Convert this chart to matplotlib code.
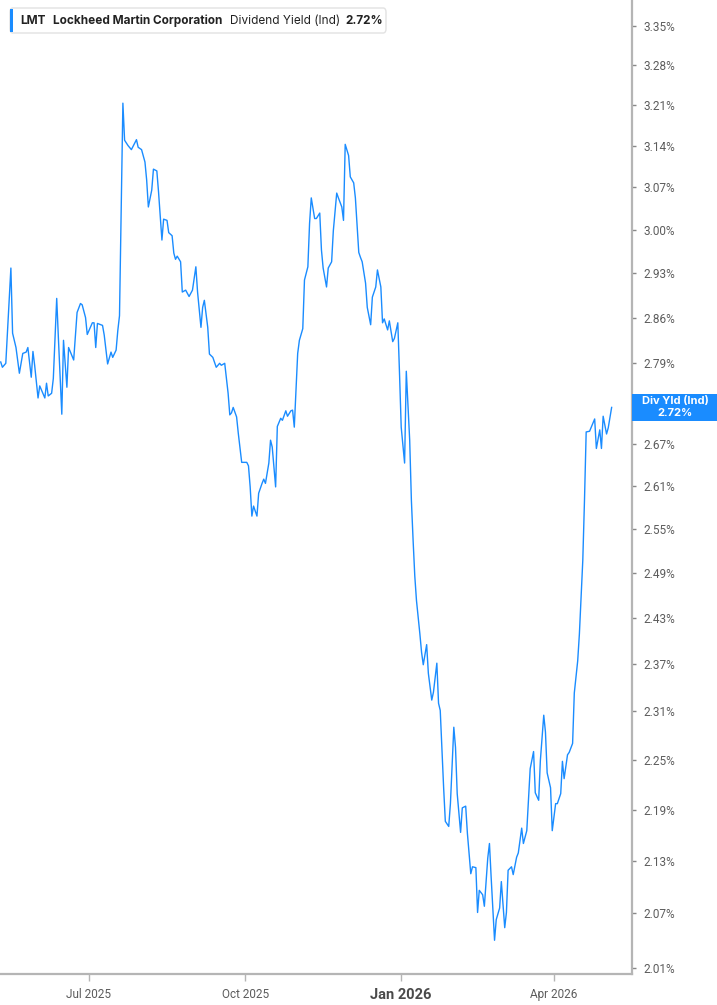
import matplotlib
matplotlib.use('Agg')
import matplotlib.pyplot as plt
import matplotlib.dates as mdates
from matplotlib.patches import FancyBboxPatch, Rectangle
from matplotlib.ticker import NullLocator, NullFormatter
import pandas as pd

# LMT dividend yield (indicated)
dates = [
    '2025-05-10', '2025-05-11', '2025-05-13', '2025-05-16', '2025-05-17', '2025-05-19', '2025-05-21',
    '2025-05-23', '2025-05-25', '2025-05-26', '2025-05-28', '2025-05-29', '2025-05-30', '2025-06-01',
    '2025-06-02', '2025-06-03', '2025-06-05', '2025-06-06', '2025-06-07', '2025-06-09', '2025-06-10',
    '2025-06-12', '2025-06-13', '2025-06-15', '2025-06-16', '2025-06-18', '2025-06-19', '2025-06-22',
    '2025-06-24', '2025-06-26', '2025-06-27', '2025-06-29', '2025-06-30', '2025-07-03', '2025-07-04',
    '2025-07-05', '2025-07-06', '2025-07-09', '2025-07-10', '2025-07-12', '2025-07-14', '2025-07-15',
    '2025-07-17', '2025-07-18', '2025-07-19', '2025-07-21', '2025-07-22', '2025-07-24', '2025-07-26',
    '2025-07-29', '2025-07-30', '2025-08-01', '2025-08-03', '2025-08-04', '2025-08-05', '2025-08-07',
    '2025-08-08', '2025-08-10', '2025-08-11', '2025-08-13', '2025-08-14', '2025-08-16', '2025-08-17',
    '2025-08-19', '2025-08-20', '2025-08-21', '2025-08-22', '2025-08-24', '2025-08-25', '2025-08-27',
    '2025-08-29', '2025-08-31', '2025-09-02', '2025-09-03', '2025-09-05', '2025-09-06', '2025-09-07',
    '2025-09-09', '2025-09-10', '2025-09-12', '2025-09-14', '2025-09-16', '2025-09-17', '2025-09-19',
    '2025-09-21', '2025-09-22', '2025-09-23', '2025-09-24', '2025-09-26', '2025-09-27', '2025-09-29',
    '2025-10-02', '2025-10-03', '2025-10-04', '2025-10-05', '2025-10-06', '2025-10-08', '2025-10-09',
    '2025-10-11', '2025-10-12', '2025-10-13', '2025-10-15', '2025-10-16', '2025-10-17', '2025-10-19',
    '2025-10-20', '2025-10-22', '2025-10-23', '2025-10-25', '2025-10-26', '2025-10-28', '2025-10-29',
    '2025-10-30', '2025-11-01', '2025-11-02', '2025-11-04', '2025-11-05', '2025-11-07', '2025-11-08',
    '2025-11-09', '2025-11-11', '2025-11-12', '2025-11-14', '2025-11-15', '2025-11-16', '2025-11-18',
    '2025-11-19', '2025-11-21', '2025-11-22', '2025-11-24', '2025-11-25', '2025-11-27', '2025-11-28',
    '2025-11-29', '2025-12-01', '2025-12-02', '2025-12-04', '2025-12-05', '2025-12-07', '2025-12-08',
    '2025-12-09', '2025-12-11', '2025-12-12', '2025-12-14', '2025-12-15', '2025-12-17', '2025-12-18',
    '2025-12-20', '2025-12-21', '2025-12-22', '2025-12-24', '2025-12-25', '2025-12-27', '2025-12-28',
    '2025-12-30', '2025-12-31', '2026-01-01', '2026-01-03', '2026-01-04', '2026-01-06', '2026-01-07',
    '2026-01-08', '2026-01-09', '2026-01-10', '2026-01-12', '2026-01-13', '2026-01-14', '2026-01-16',
    '2026-01-17', '2026-01-19', '2026-01-20', '2026-01-22', '2026-01-23', '2026-01-24', '2026-01-26',
    '2026-01-27', '2026-01-29', '2026-01-30', '2026-02-01', '2026-02-02', '2026-02-03', '2026-02-05',
    '2026-02-06', '2026-02-08', '2026-02-09', '2026-02-11', '2026-02-12', '2026-02-14', '2026-02-15',
    '2026-02-16', '2026-02-18', '2026-02-19', '2026-02-21', '2026-02-22', '2026-02-23', '2026-02-25',
    '2026-02-26', '2026-02-28', '2026-03-01', '2026-03-03', '2026-03-04', '2026-03-05', '2026-03-07',
    '2026-03-08', '2026-03-10', '2026-03-11', '2026-03-13', '2026-03-14', '2026-03-16', '2026-03-17',
    '2026-03-18', '2026-03-20', '2026-03-21', '2026-03-23', '2026-03-24', '2026-03-26', '2026-03-27',
    '2026-03-28', '2026-03-30', '2026-03-31', '2026-04-02', '2026-04-03', '2026-04-05', '2026-04-06',
    '2026-04-07', '2026-04-09', '2026-04-10', '2026-04-12', '2026-04-13', '2026-04-15', '2026-04-16',
    '2026-04-18', '2026-04-19', '2026-04-20', '2026-04-22', '2026-04-23', '2026-04-25', '2026-04-26',
    '2026-04-28', '2026-04-29', '2026-04-30', '2026-05-02', '2026-05-03', '2026-05-05',
]
yields = [
    2.792, 2.784, 2.790, 2.938, 2.836, 2.814, 2.775,
    2.805, 2.807, 2.814, 2.769, 2.808, 2.787, 2.738,
    2.756, 2.750, 2.738, 2.760, 2.741, 2.745, 2.767,
    2.890, 2.828, 2.714, 2.825, 2.754, 2.814, 2.795,
    2.868, 2.882, 2.880, 2.860, 2.834, 2.852, 2.852,
    2.814, 2.851, 2.848, 2.833, 2.789, 2.807, 2.799,
    2.810, 2.840, 2.863, 3.213, 3.149, 3.140, 3.133,
    3.150, 3.137, 3.133, 3.112, 3.082, 3.037, 3.065,
    3.100, 3.097, 3.062, 2.983, 3.017, 3.015, 2.995,
    2.990, 2.962, 2.952, 2.957, 2.948, 2.900, 2.903,
    2.893, 2.903, 2.940, 2.900, 2.845, 2.876, 2.887,
    2.845, 2.804, 2.799, 2.784, 2.790, 2.787, 2.790,
    2.745, 2.713, 2.716, 2.724, 2.710, 2.686, 2.644,
    2.644, 2.639, 2.609, 2.568, 2.582, 2.568, 2.600,
    2.614, 2.620, 2.614, 2.643, 2.676, 2.666, 2.609,
    2.696, 2.708, 2.705, 2.719, 2.711, 2.719, 2.720,
    2.695, 2.805, 2.825, 2.843, 2.919, 2.940, 3.010,
    3.052, 3.018, 3.018, 3.027, 2.967, 2.938, 2.908,
    2.938, 2.948, 2.998, 3.060, 3.052, 3.037, 3.015,
    3.142, 3.123, 3.087, 3.077, 3.052, 2.963, 2.955,
    2.948, 2.914, 2.876, 2.849, 2.892, 2.908, 2.935,
    2.908, 2.852, 2.858, 2.841, 2.855, 2.823, 2.828,
    2.852, 2.775, 2.695, 2.643, 2.778, 2.676, 2.590,
    2.535, 2.486, 2.453, 2.409, 2.385, 2.369, 2.395,
    2.358, 2.324, 2.334, 2.371, 2.320, 2.311, 2.216,
    2.176, 2.170, 2.197, 2.290, 2.265, 2.209, 2.163,
    2.192, 2.194, 2.162, 2.115, 2.123, 2.122, 2.071,
    2.096, 2.091, 2.078, 2.133, 2.150, 2.111, 2.040,
    2.063, 2.076, 2.106, 2.054, 2.071, 2.119, 2.123,
    2.114, 2.134, 2.139, 2.168, 2.150, 2.165, 2.201,
    2.239, 2.260, 2.210, 2.201, 2.249, 2.305, 2.284,
    2.234, 2.216, 2.165, 2.197, 2.197, 2.209, 2.248,
    2.227, 2.256, 2.259, 2.270, 2.333, 2.374, 2.409,
    2.507, 2.590, 2.688, 2.689, 2.695, 2.707, 2.664,
    2.691, 2.664, 2.711, 2.685, 2.694, 2.724,
]
# the 2.72% gridline sits under the value tag, so it has no visible label
ytick_vals = [2.01, 2.07, 2.13, 2.19, 2.25, 2.31, 2.37, 2.43, 2.49, 2.55, 2.61,
              2.67, 2.72, 2.79, 2.86, 2.93, 3.00, 3.07, 3.14, 3.21, 3.28, 3.35]
xtick_dates = ['2025-07-01', '2025-10-01', '2026-01-01', '2026-04-01']
xtick_labels = ['Jul 2025', 'Oct 2025', 'Jan 2026', 'Apr 2026']

BLUE = '#1a8cff'
AXIS_GREY = '#b5b5b5'
TEXT_GREY = '#5c5c5c'
TICK_FONT = ['Liberation Sans Narrow', 'Roboto', 'DejaVu Sans']
LFONT = ['Inter', 'DejaVu Sans']

W, H = 717, 1005
fig = plt.figure(figsize=(W / 100, H / 100), dpi=100)
ax = fig.add_axes([0, 31 / H, 632 / W, 974 / H])

x = pd.to_datetime(dates)
ax.plot(x, yields, color=BLUE, lw=1.0, solid_joinstyle='round')

ax.set_yscale('log')
ax.set_ylim(2.003, 3.398)
ax.set_xlim(pd.Timestamp('2025-05-09 14:00'), pd.Timestamp('2026-05-17'))

# right-hand y axis
ax.yaxis.tick_right()
ax.yaxis.set_minor_locator(NullLocator())
ax.yaxis.set_minor_formatter(NullFormatter())
ax.set_yticks(ytick_vals)
ax.set_yticklabels(['' if abs(v - yields[-1]) < 0.01 else f'{v:.2f}%' for v in ytick_vals],
                   family=TICK_FONT, fontsize=8.5, color=TEXT_GREY)
ax.tick_params(axis='y', length=3, width=1, color='#888888', pad=5)

ax.set_xticks(pd.to_datetime(xtick_dates))
ax.set_xticklabels(xtick_labels, family=TICK_FONT, fontsize=8.5, color=TEXT_GREY)
ax.tick_params(axis='x', length=5, width=1, color=AXIS_GREY, pad=5)
jan = ax.get_xticklabels()[2]
jan.set_fontweight('bold')
jan.set_fontsize(10.5)
jan.set_color('#4a4a4a')

for side in ['left', 'top']:
    ax.spines[side].set_visible(False)
for side in ['right', 'bottom']:
    ax.spines[side].set_color(AXIS_GREY)
    ax.spines[side].set_linewidth(1.6)

# current value tag on the axis
last_px = ax.transData.transform((mdates.date2num(x[-1]), yields[-1]))[1]
tag = Rectangle((632 / W, (last_px - 13.5) / H), 85 / W, 27 / H,
                transform=fig.transFigure, facecolor=BLUE, edgecolor='none', zorder=5)
fig.patches.append(tag)
fig.text(675 / W, (last_px + 6) / H, 'Div Yld (Ind)', ha='center', va='center',
         color='white', fontsize=8, fontweight='bold', family=LFONT, zorder=7)
fig.text(675 / W, (last_px - 6) / H, f'{yields[-1]:.2f}%', ha='center', va='center',
         color='white', fontsize=8, fontweight='bold', family=LFONT, zorder=7)

# legend box top left
box = FancyBboxPatch((10 / W, 1 - 33 / H), 376 / W, 25 / H,
                     boxstyle='round,pad=0,rounding_size=0.004',
                     transform=fig.transFigure, facecolor='white',
                     edgecolor='#e2e2e2', linewidth=1, zorder=5)
fig.patches.append(box)
bar = Rectangle((10 / W, 1 - 32 / H), 3 / W, 23 / H, transform=fig.transFigure,
                facecolor=BLUE, edgecolor='none', zorder=6)
fig.patches.append(bar)
ty = 1 - 20.5 / H
legend_parts = [
    (20, 'LMT', 'bold'),
    (53, 'Lockheed Martin Corporation', 'bold'),
    (230, 'Dividend Yield (Ind)', 'normal'),
    (345, f'{yields[-1]:.2f}%', 'bold'),
]
for lx, txt, wt in legend_parts:
    fig.text(lx / W, ty, txt, ha='left', va='center', fontsize=8.5,
             fontweight=wt, color='#222222', family=LFONT, zorder=7)

fig.savefig('out.png', dpi=100)
